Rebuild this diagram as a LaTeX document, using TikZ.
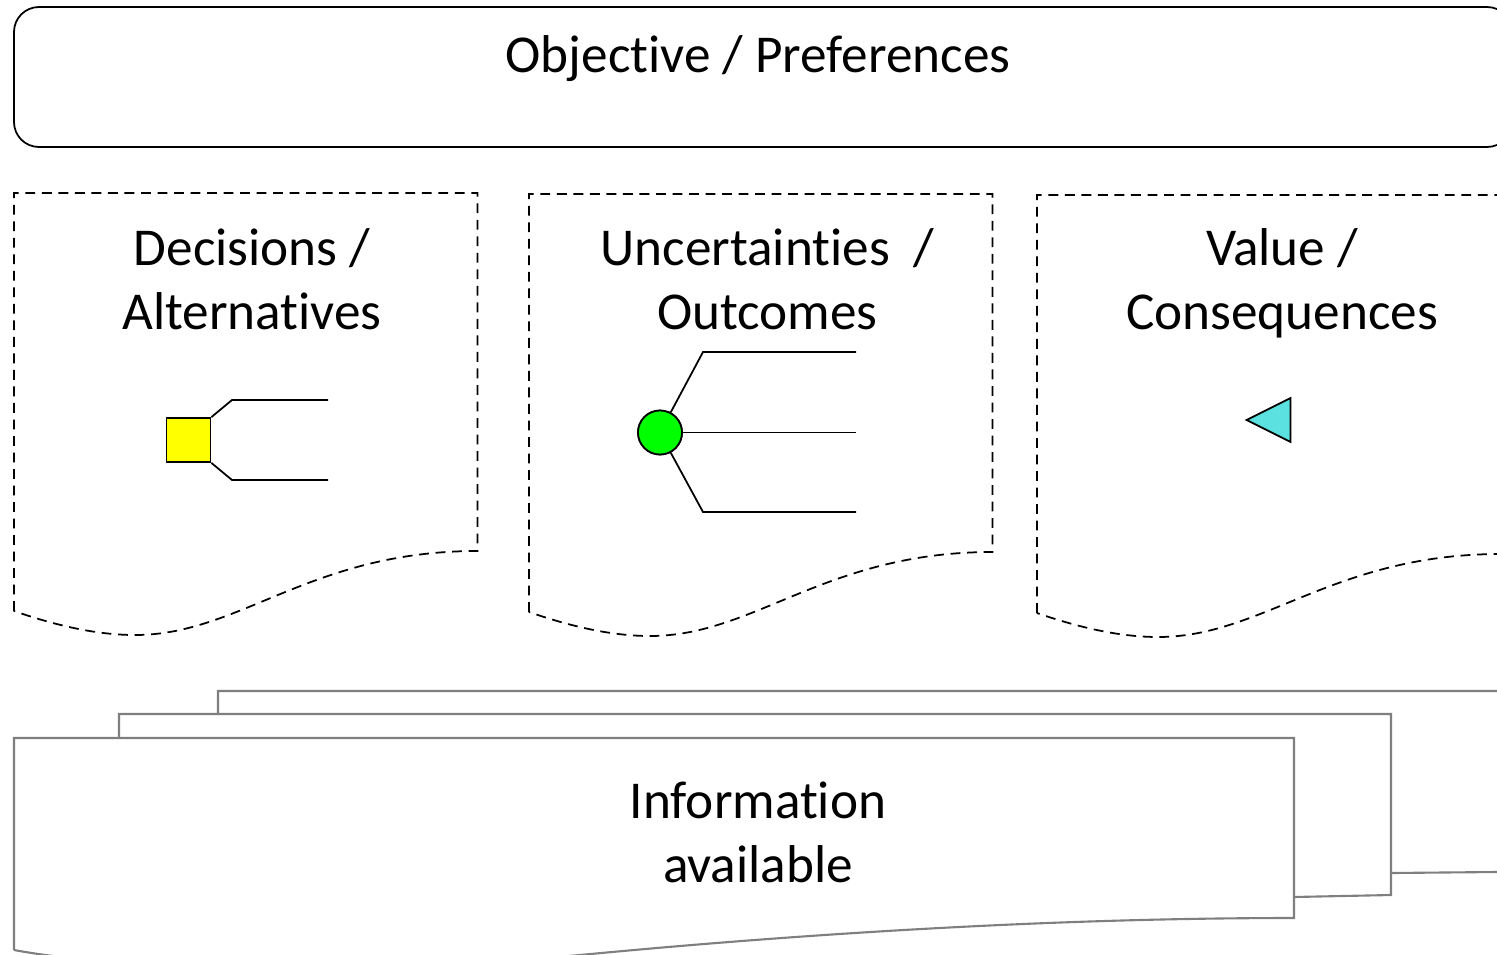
\documentclass[tikz,border=0pt]{standalone}
\usepackage{fontspec}
\setmainfont[Ligatures=NoCommon]{Carlito}
\usetikzlibrary{shapes.geometric}
\definecolor{squarefill}{RGB}{255,255,0}
\definecolor{dotfill}{RGB}{0,255,0}
\definecolor{tipfill}{RGB}{92,225,225}
\definecolor{sheetline}{RGB}{127,127,127}
\tikzset{x=0.02cm, y=-0.02cm,
title/.style={align=center, inner sep=0pt, font=\fontsize{30.3}{36.4}\selectfont}, % all the labels
frame/.style={draw=black, line width=1pt, dash pattern=on 5.6pt off 3.8pt}, % dashed sheets
sheet/.style={draw=sheetline, fill=white, line width=1.2pt}, % stacked sheets
branch/.style={draw=black, line width=1pt},
decision/.style={rectangle, draw=black, fill=squarefill, line width=1pt, minimum size=0.88cm, inner sep=0pt},
chance/.style={circle, draw=black, fill=dotfill, line width=1pt, minimum size=0.88cm, inner sep=0pt},
payoff/.style={isosceles triangle, shape border rotate=180, isosceles triangle stretches, draw=black, fill=tipfill, line width=1pt, minimum width=0.88cm, minimum height=0.88cm, inner sep=0pt},
}

\begin{document}
\begin{tikzpicture}
    \useasboundingbox (0,0) rectangle (1497,954);
    \clip (0,0) rectangle (1497,954);

    % objective
    \draw[black, line width=1pt, rounded corners=0.5cm] (14,7) rectangle (1512,147);
    \node[title] (objective) at (758,59) {Objective / Preferences};

    % dashed sheets
    \draw[frame] (14,611) -- (14,193) -- (477.5,193) -- (477.5,551) .. controls (310,551) and (240,635) .. (135,635) .. controls (100,635) and (60,627) .. (14,611);
    \draw[frame] (529,612) -- (529,194) -- (992.5,194) -- (992.5,552) .. controls (825,552) and (755,636) .. (650,636) .. controls (615,636) and (575,628) .. (529,612);
    \draw[frame] (1037,613) -- (1037,195) -- (1501,195) -- (1501,554) .. controls (1333,554) and (1263,637) .. (1158,637) .. controls (1123,637) and (1083,629) .. (1037,613);
    \node[title] (decisions) at (252,279) {Decisions /\\Alternatives};
    \node[title] (uncertainties) at (767.5,279) {Uncertainties\ \ /\\Outcomes};
    \node[title] (value) at (1282,283) {Value /\\Consequences};

    % decision branches
    \node[decision] (square) at (188.5,440) {};
    \coordinate (d1) at (328,400);
    \coordinate (d2) at (328,480);
    \draw[branch] (square.north east) -- (232,400) -- (d1);
    \draw[branch] (square.south east) -- (232,480) -- (d2);

    % chance branches
    \node[chance] (dot) at (660,432.5) {};
    \coordinate (c1) at (856,352);
    \coordinate (c2) at (856,432.5);
    \coordinate (c3) at (856,512);
    \draw[branch] (dot.62) -- (703,352) -- (c1);
    \draw[branch, line width=1.1pt] (dot) -- (c2);
    \draw[branch] (dot.-62) -- (703,512) -- (c3);
    \node[chance] at (dot) {};

    % value
    \node[payoff] (tip) at (1277,420) {};

    % information sheets
    \draw[sheet] (218,1100) -- (218,691) -- (1600,691) -- (1600,871) -- (1391,873);
    \draw[sheet] (119,1100) -- (119,714) -- (1391,714) -- (1391,895) -- (1294,897);
    \draw[sheet] (14,950) -- (14,738) -- (1294,738) -- (1294,918) .. controls (1050,918) and (800,934) .. (580,955) .. controls (400,972) and (150,975) .. (14,950);
    \node[title] (information) at (758,832) {Information\\available};
\end{tikzpicture}
\end{document}
